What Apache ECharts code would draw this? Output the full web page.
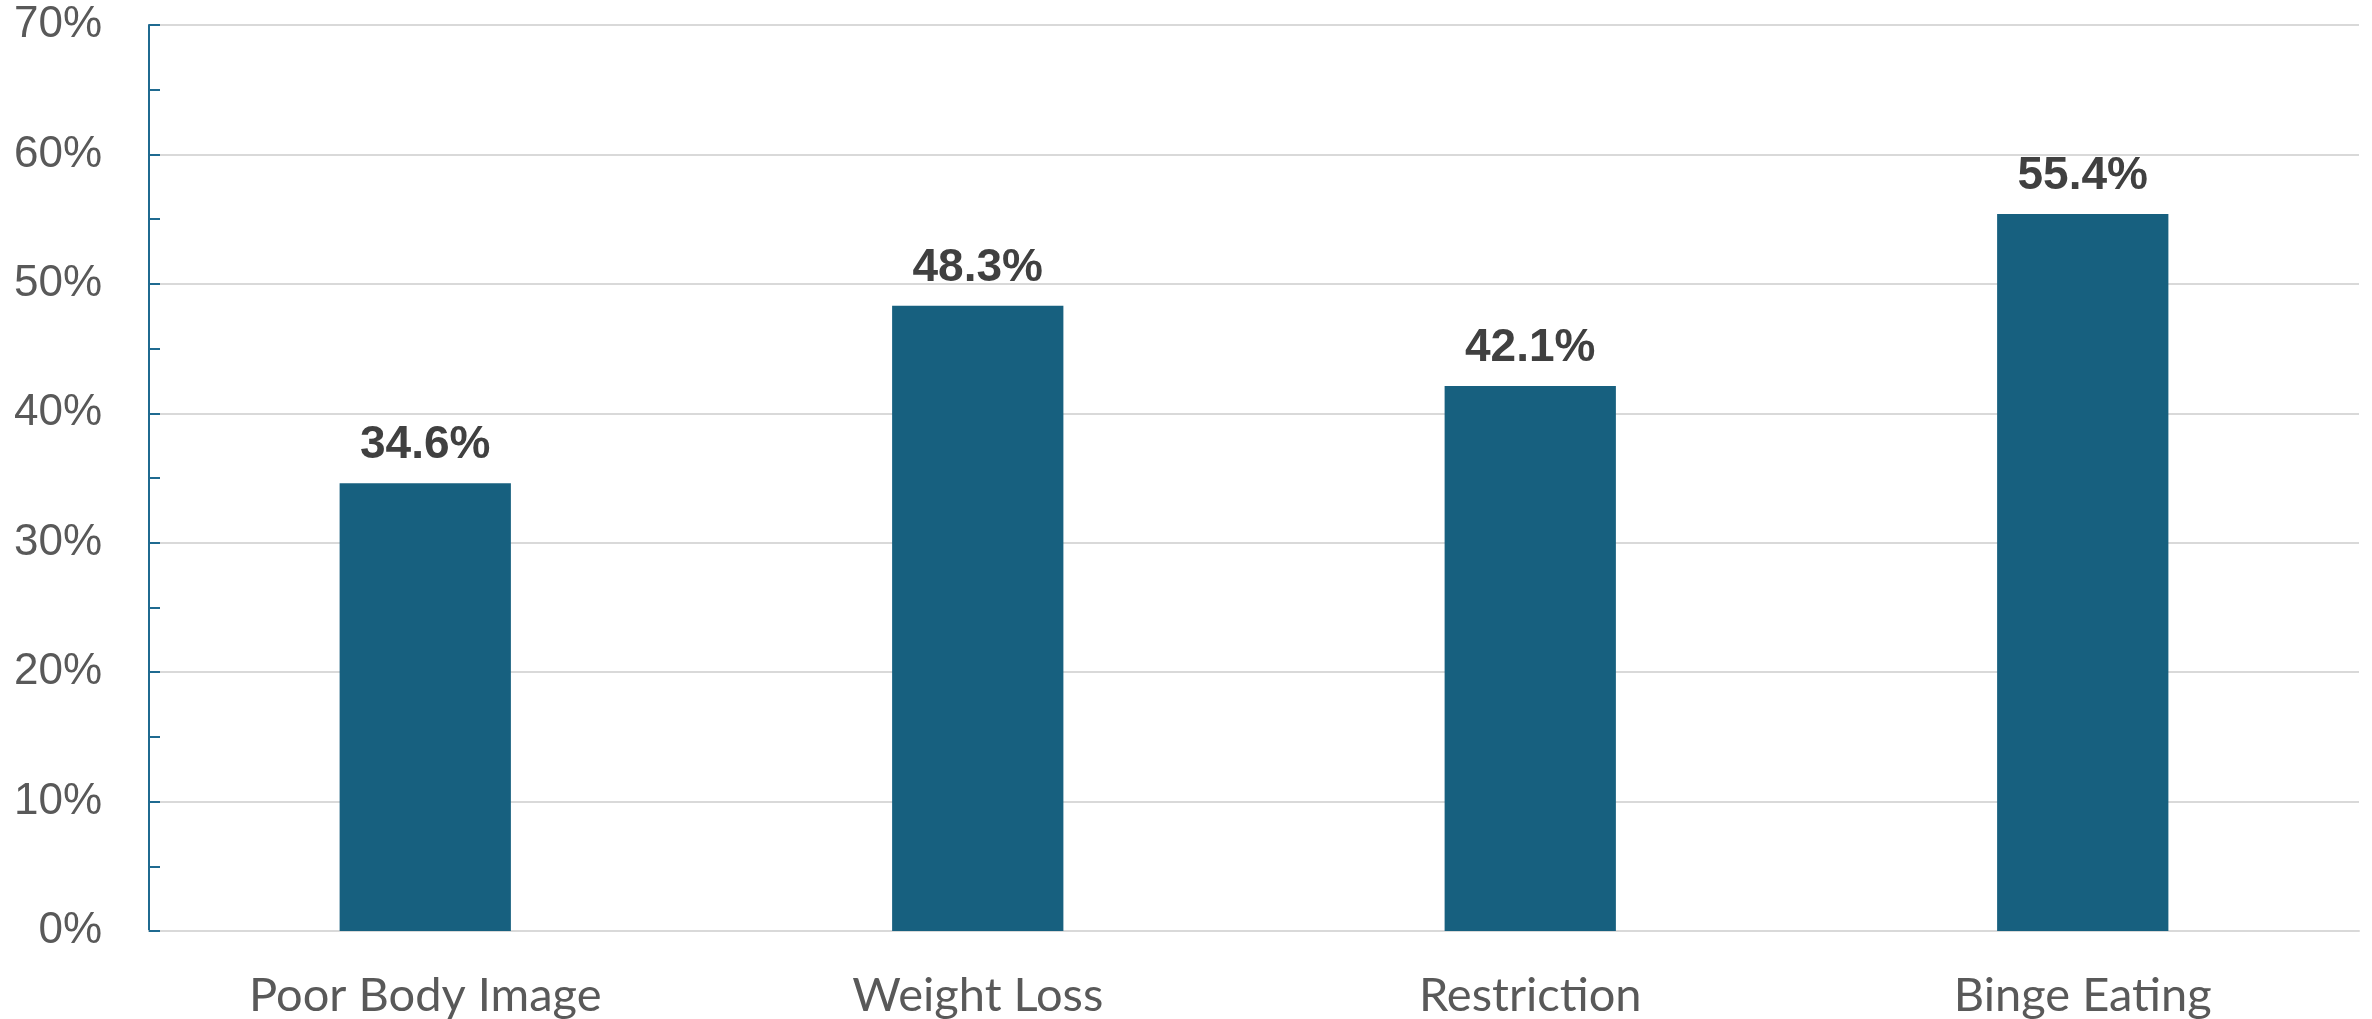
<!DOCTYPE html>
<html>
<head>
<meta charset="utf-8">
<title>Disordered eating behaviours</title>
<script src="https://cdn.jsdelivr.net/npm/echarts@6/dist/echarts.min.js"></script>
<style>
  html, body { margin: 0; padding: 0; background: #ffffff; }
  #chart { width: 2372px; height: 1019px; }
</style>
</head>
<body>
<div id="chart"></div>
<script>
// Share of respondents reporting each behaviour (%)
const categories = ['Poor Body Image', 'Weight Loss', 'Restriction', 'Binge Eating'];
const values = [34.6, 48.3, 42.1, 55.4];

// Value axis range and step (%)
const yMin = 0;
const yMax = 70;
const yStep = 10;

const barColor = '#17607F';
const axisBlue = '#1F6A90';
const gridGrey = '#D9D9D9';

const chart = echarts.init(document.getElementById('chart'), null, { renderer: 'canvas' });

chart.setOption({
  animation: false,
  backgroundColor: '#ffffff',
  grid: { left: 149, right: 13, top: 25, bottom: 84, containLabel: false },
  xAxis: {
    type: 'category',
    data: categories,
    axisLine: { show: true, lineStyle: { color: gridGrey, width: 2 } },
    axisTick: { show: false },
    axisLabel: {
      margin: 41,
      color: '#595959',
      fontFamily: 'Lato',
      fontSize: 47
    },
    splitLine: { show: false }
  },
  yAxis: {
    type: 'value',
    min: yMin,
    max: yMax,
    interval: yStep,
    axisLine: { show: true, lineStyle: { color: axisBlue, width: 2 } },
    axisTick: { show: true, inside: true, length: 11, lineStyle: { color: axisBlue, width: 2 } },
    minorTick: { show: true, splitNumber: 2, length: 11, lineStyle: { color: axisBlue, width: 2 } },
    axisLabel: {
      margin: 47,
      color: '#595959',
      fontFamily: 'Liberation Sans',
      fontSize: 44,
      formatter: '{value}%'
    },
    splitLine: { show: true, lineStyle: { color: gridGrey, width: 2 } }
  },
  series: [{
    type: 'bar',
    data: values,
    barWidth: '31%',
    itemStyle: { color: barColor },
    label: {
      show: true,
      position: 'top',
      distance: 15,
      color: '#404040',
      fontFamily: 'Liberation Sans',
      fontWeight: 'bold',
      fontSize: 46,
      formatter: p => p.value.toFixed(1) + '%'
    }
  }]
});
</script>
</body>
</html>
